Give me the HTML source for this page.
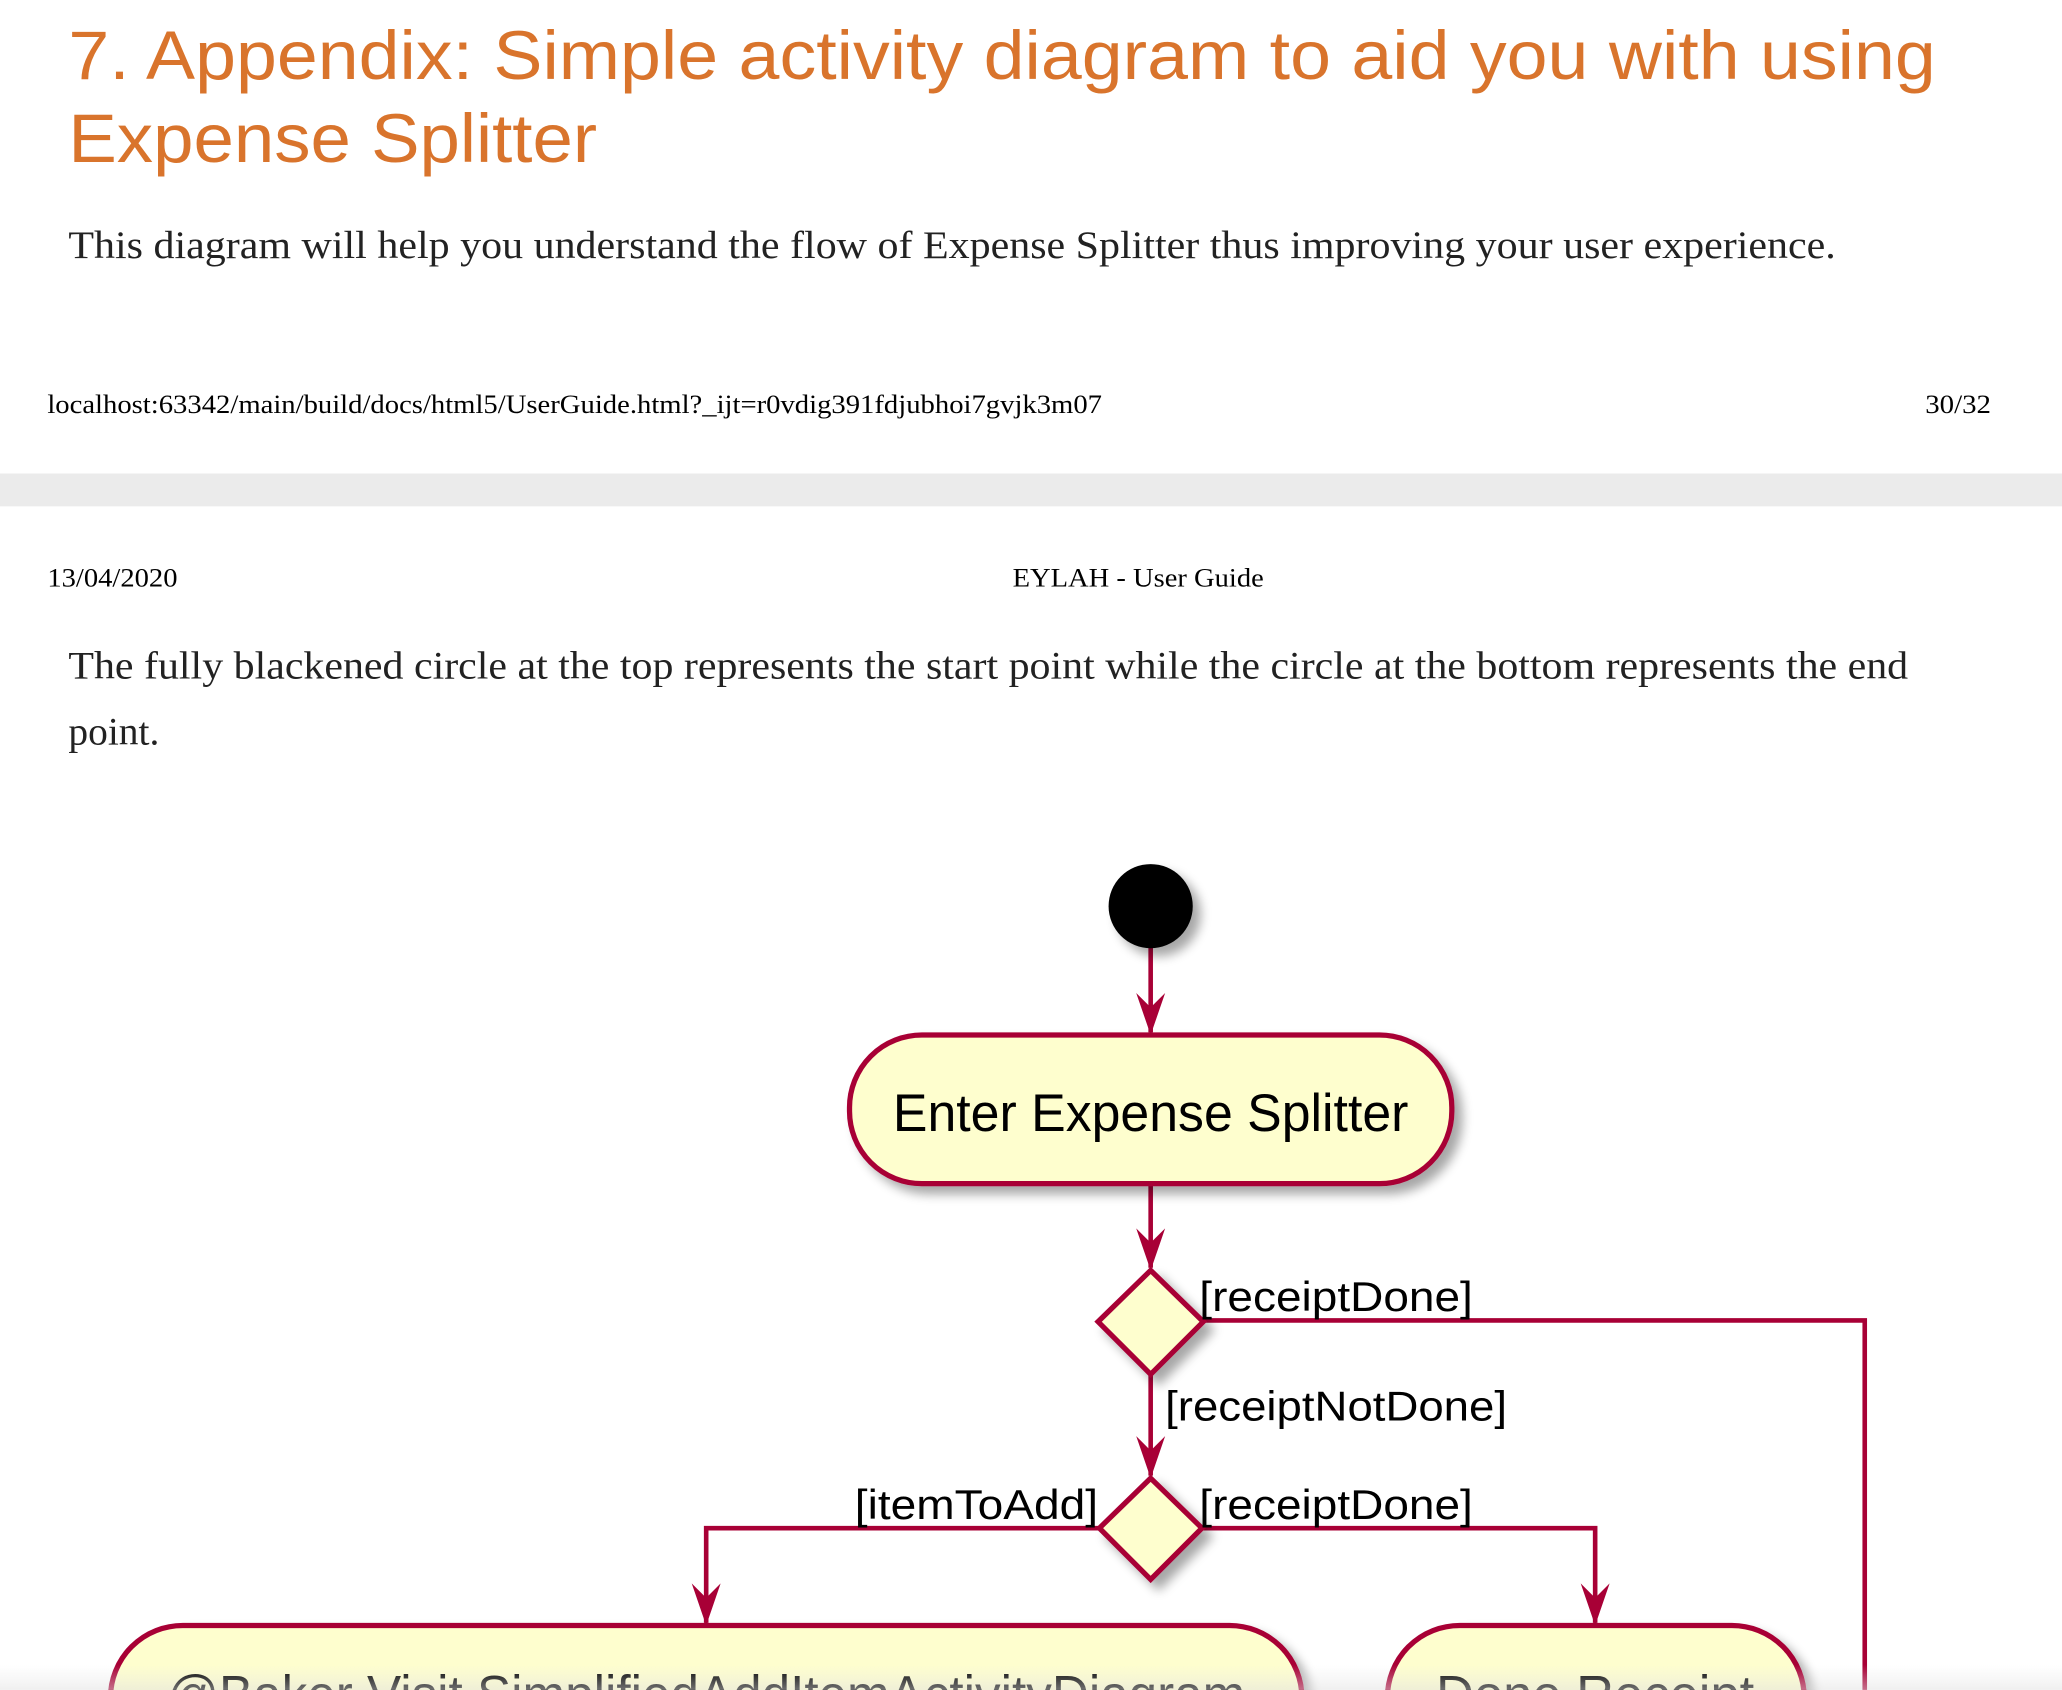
<!DOCTYPE html>
<html><head><meta charset="utf-8"><style>
html,body{margin:0;padding:0;background:#fff;width:2062px;height:1690px;overflow:hidden;}
svg{display:block;}
</style></head><body>
<svg width="2062" height="1690" viewBox="0 0 1568 1285" xmlns="http://www.w3.org/2000/svg">
<defs>
<filter id="sh" x="-20%" y="-20%" width="150%" height="150%">
<feGaussianBlur in="SourceAlpha" stdDeviation="4"/>
<feOffset dx="6" dy="6"/>
<feComponentTransfer><feFuncA type="linear" slope="0.35"/></feComponentTransfer>
<feMerge><feMergeNode/><feMergeNode in="SourceGraphic"/></feMerge>
</filter>
<linearGradient id="fade" x1="0" y1="0" x2="0" y2="1">
<stop offset="0" stop-color="#e8e8e8" stop-opacity="0"/>
<stop offset="1" stop-color="#e0e0e0" stop-opacity="0.5"/>
</linearGradient>
</defs>
<rect width="1568" height="1285" fill="#fff"/>
<g font-family="'Liberation Sans',sans-serif" fill="#d9742c" font-size="52">
<text x="52" y="60" textLength="1420" lengthAdjust="spacingAndGlyphs">7. Appendix: Simple activity diagram to aid you with using</text>
<text x="52" y="123" textLength="402" lengthAdjust="spacingAndGlyphs">Expense Splitter</text>
</g>
<g font-family="'Liberation Serif',serif" fill="#222" font-size="30">
<text x="52" y="196" textLength="1344" lengthAdjust="spacingAndGlyphs">This diagram will help you understand the flow of Expense Splitter thus improving your user experience.</text>
<text x="52" y="516" textLength="1399" lengthAdjust="spacingAndGlyphs">The fully blackened circle at the top represents the start point while the circle at the bottom represents the end</text>
<text x="52" y="566">point.</text>
</g>
<g font-family="'Liberation Serif',serif" fill="#000" font-size="20">
<text x="36" y="314" textLength="802" lengthAdjust="spacingAndGlyphs">localhost:63342/main/build/docs/html5/UserGuide.html?_ijt=r0vdig391fdjubhoi7gvjk3m07</text>
<text x="1514" y="314" text-anchor="end" textLength="50" lengthAdjust="spacingAndGlyphs">30/32</text>
<text x="36" y="446" textLength="99" lengthAdjust="spacingAndGlyphs">13/04/2020</text>
<text x="770" y="446" textLength="191" lengthAdjust="spacingAndGlyphs">EYLAH - User Guide</text>
</g>
<rect x="0" y="360" width="1568" height="25" fill="#ebebeb"/>

<g stroke="#a80036" stroke-width="3.5" fill="none">
<line x1="875" y1="720" x2="875" y2="785"/>
<line x1="875" y1="900" x2="875" y2="964"/>
<polyline points="915,1004 1418,1004 1418,1285"/>
<line x1="875" y1="1045" x2="875" y2="1122"/>
<polyline points="835,1162 537,1162 537,1234"/>
<polyline points="915,1162 1213,1162 1213,1234"/>
</g>
<g fill="#a80036">
<path d="M875,787 L864,755 L875,766 L886,755 Z"/>
<path d="M875,966 L864,934 L875,945 L886,934 Z"/>
<path d="M875,1124 L864,1092 L875,1103 L886,1092 Z"/>
<path d="M537,1236 L526,1204 L537,1215 L548,1204 Z"/>
<path d="M1213,1236 L1202,1204 L1213,1215 L1224,1204 Z"/>
</g>
<circle cx="875" cy="689" r="32" fill="#000" filter="url(#sh)"/>
<rect x="646" y="787" width="458" height="113" rx="55" fill="#fefece" stroke="#a80036" stroke-width="4" filter="url(#sh)"/>
<polygon points="875,966 915,1005 875,1045 835,1005" fill="#fefece" stroke="#a80036" stroke-width="4" filter="url(#sh)"/>
<polygon points="875,1124 914,1162 875,1201 836,1162" fill="#fefece" stroke="#a80036" stroke-width="4" filter="url(#sh)"/>
<rect x="84" y="1236" width="906" height="120" rx="55" fill="#fefece" stroke="#a80036" stroke-width="4" filter="url(#sh)"/>
<rect x="1055" y="1236" width="317" height="120" rx="55" fill="#fefece" stroke="#a80036" stroke-width="4" filter="url(#sh)"/>
<g font-family="'Liberation Sans',sans-serif" fill="#000">
<text x="875" y="860" font-size="40" text-anchor="middle" textLength="392" lengthAdjust="spacingAndGlyphs">Enter Expense Splitter</text>
<text x="912" y="997" font-size="32" textLength="208" lengthAdjust="spacingAndGlyphs">[receiptDone]</text>
<text x="886" y="1080" font-size="32" textLength="260" lengthAdjust="spacingAndGlyphs">[receiptNotDone]</text>
<text x="650" y="1155" font-size="32" textLength="185" lengthAdjust="spacingAndGlyphs">[itemToAdd]</text>
<text x="912" y="1155" font-size="32" textLength="208" lengthAdjust="spacingAndGlyphs">[receiptDone]</text>
<text x="537" y="1302" font-size="40" text-anchor="middle" textLength="820" lengthAdjust="spacingAndGlyphs">@Baker Visit SimplifiedAddItemActivityDiagram</text>
<text x="1213" y="1302" font-size="40" text-anchor="middle" textLength="242" lengthAdjust="spacingAndGlyphs">Done Receipt</text>
</g>
<rect x="0" y="1266" width="1568" height="19" fill="url(#fade)"/>
</svg>
</body></html>
